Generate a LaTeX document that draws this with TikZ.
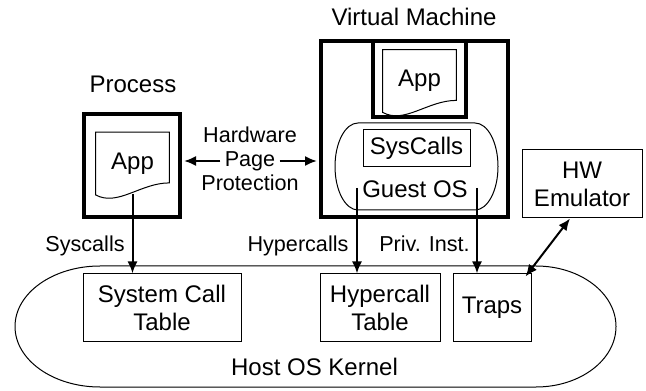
\documentclass[tikz,border=0pt]{standalone}
\usepackage{fontspec}
\setmainfont{Liberation Sans}
\usetikzlibrary{arrows.meta,positioning}

\newcommand{\bigtxt}{\fontsize{12}{14}\selectfont}
\newcommand{\smalltxt}{\fontsize{10.8}{12}\selectfont}
% page outline with a wavy lower edge, drawn round a node
\newcommand{\docedge}[1]{%
  \draw[thinline] (#1.north west) -- (#1.north east) -- ([yshift=6pt]#1.south east)
    .. controls ([xshift=22.5pt,yshift=6pt]#1.south west) and ([xshift=11pt,yshift=-6pt]#1.south west) .. (#1.south west) -- cycle;}

\begin{document}
\begin{tikzpicture}[x=0.5pt,y=0.5pt,
    >={Latex[length=6pt,width=5pt]},
    thinline/.style={line width=0.5pt},
    thinbox/.style={draw,line width=0.5pt,align=center,font=\bigtxt,inner sep=0pt},
    thickbox/.style={draw,line width=2pt,inner sep=0pt},
    docnode/.style={inner sep=0pt,minimum width=36.5pt,minimum height=31pt,font=\bigtxt},
    lbl/.style={font=\smalltxt,text height=8pt,text depth=2.5pt},
    call/.style={->,line width=1pt}]
    \useasboundingbox (0,0) rectangle (646,390);

    % Host OS kernel
    \draw[thinline] (100,124) -- (536,124)
        arc[start angle=90,end angle=-90,x radius=40pt,y radius=30.25pt] -- (100,3)
        arc[start angle=270,end angle=90,x radius=42.5pt,y radius=30.25pt] -- cycle;
    \node[font=\bigtxt] (kernel) at (314.5,23) {Host OS Kernel};
    \node[thinbox,minimum width=79pt,minimum height=34pt] (sct) at (162,82) {System Call\\Table};
    \node[thinbox,minimum width=60pt,minimum height=34pt] (hct) at (380,82) {Hypercall\\Table};
    \node[thinbox,minimum width=39pt,minimum height=34pt] (traps) at (492,82) {Traps};

    % Process
    \node[thickbox,minimum width=48pt,minimum height=51.5pt] (proc) at (132,224.5) {};
    \node[docnode] (procapp) at (132.5,226.5) {App};
    \docedge{procapp}
    \node[font=\bigtxt] (proclbl) at (133,306) {Process};

    % Virtual machine
    \node[thickbox,minimum width=93.5pt,minimum height=88pt] (vm) at (414.5,261) {};
    \node[thickbox,minimum width=46.5pt,minimum height=38pt] (vmapp) at (419.5,311) {};
    \node[docnode] (vmappdoc) at (419.5,309) {App};
    \docedge{vmappdoc}
    \node[font=\bigtxt] (vmlbl) at (414,373) {Virtual Machine};

    % Guest OS
    \draw[thinline] (358,267) -- (475,267)
        arc[start angle=90,end angle=-90,x radius=11.5pt,y radius=21.75pt] -- (358,180)
        arc[start angle=270,end angle=90,x radius=11.5pt,y radius=21.75pt] -- cycle;
    \node[thinbox,minimum width=53.5pt,minimum height=18.5pt] (sysc) at (416.5,241.5) {SysCalls};
    \node[font=\bigtxt] (guest) at (415,201) {Guest OS};

    % HW emulator
    \node[thinbox,minimum width=60pt,minimum height=34pt] (hw) at (582,206) {HW\\Emulator};

    % Page protection
    \node[lbl] (hwtop) at (250,253) {Hardware};
    \node[lbl,inner sep=2pt] (page) at (250,229) {Page};
    \node[lbl] (hwbot) at (250,205) {Protection};
    \draw[call,shorten >=1pt] (page.west) -- (page.west -| proc.east);
    \draw[call,shorten >=1pt] (page.east) -- (page.east -| vm.west);

    % Calls into the kernel
    \coordinate (hcstart) at (357,202);
    \coordinate (pistart) at (477,202);
    \draw[call] ([yshift=0.5pt]procapp.south) -- (procapp.south |- sct.north);
    \draw[call] (hcstart) -- (hcstart |- hct.north);
    \draw[call] (pistart) -- (pistart |- traps.north);
    \draw[<->,line width=1pt] ([xshift=-6pt]hw.south) -- ([xshift=-3pt,yshift=-1.5pt]traps.north east);
    \node[lbl] (sclbl) at (85,144) {Syscalls};
    \node[lbl] (hclbl) at (298,144) {Hypercalls};
    \node[lbl] (pilbl) at (424.5,144) {Priv. Inst.};

\end{tikzpicture}
\end{document}
